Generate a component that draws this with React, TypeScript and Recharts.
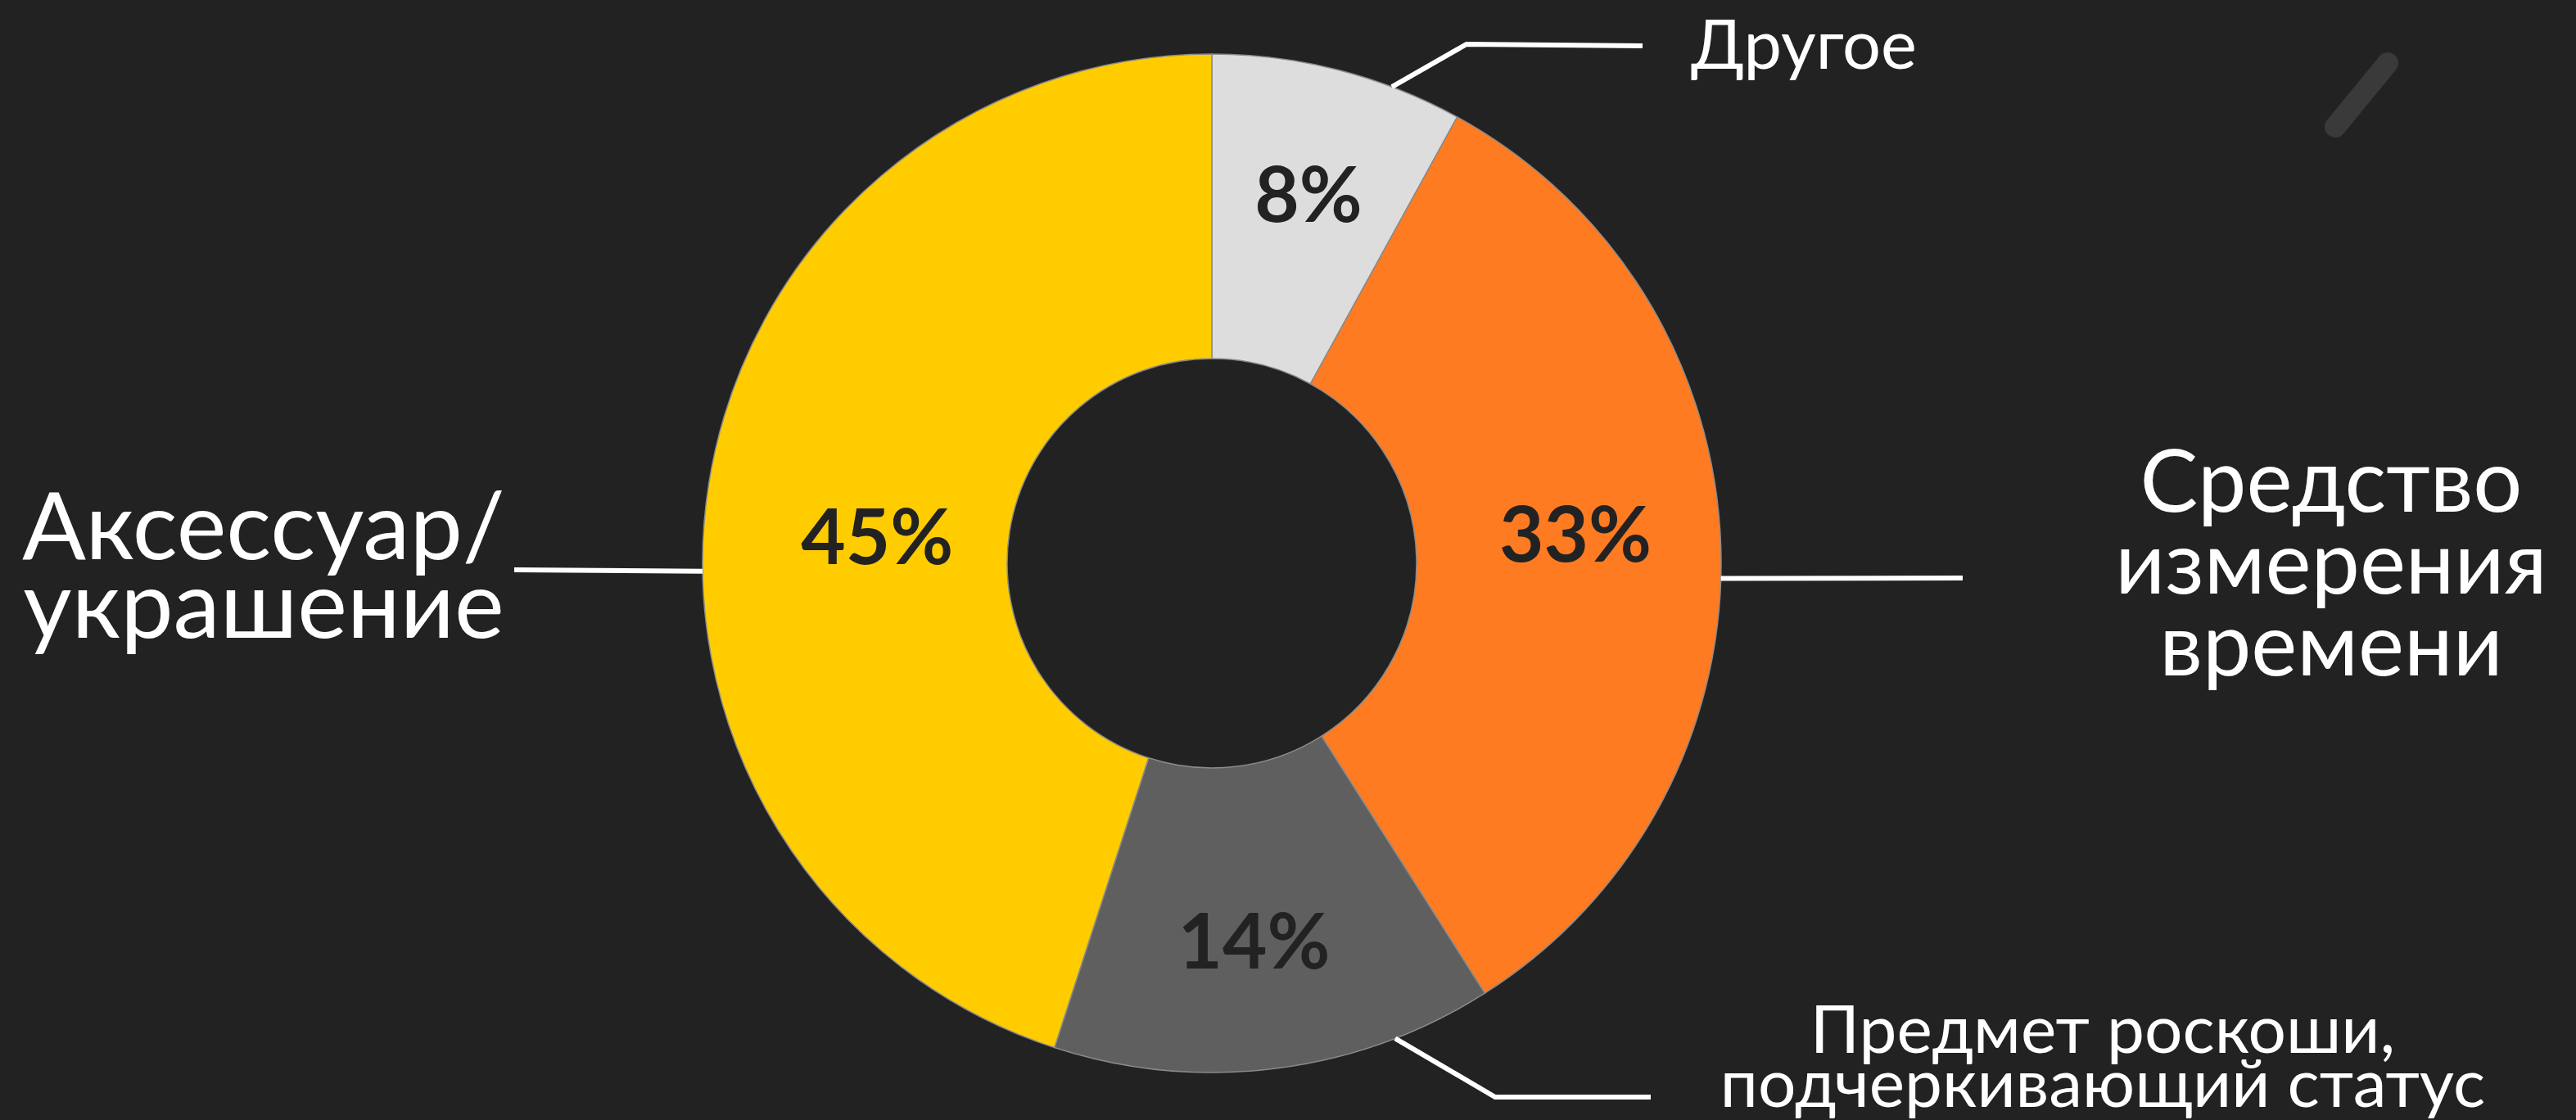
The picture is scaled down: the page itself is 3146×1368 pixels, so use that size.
import React from 'react';
import { PieChart, Pie, Cell } from 'recharts';

// ---- data ----
const categories = [
  'Другое',
  'Средство измерения времени',
  'Предмет роскоши, подчеркивающий статус',
  'Аксессуар/ украшение',
];
const shares = [8, 33, 14, 45];
const sliceColors = ['#DDDDDD', '#FF7B22', '#5F5F5F', '#FFCC00'];
const labelTextLines = [
  ['Другое'],
  ['Средство', 'измерения', 'времени'],
  ['Предмет роскоши,', 'подчеркивающий статус'],
  ['Аксессуар/', 'украшение'],
];

// ---- layout / style (kept apart from the data) ----
const W = 3146;
const H = 1368;
const BG = '#222222';
const CX = 1480;
const CY = 688;
const OUTER = 622;
const INNER = 250;

type Callout = {
  edgeAngle: number; // degrees, where the leader touches the rim
  path: [number, number][]; // further points relative to centre
  textX: number; // relative to centre
  lineYs: number[]; // relative to centre (central baseline)
  size: number;
  pctShift: [number, number]; // nudge of the percentage label
};

const callouts: Callout[] = [
  { edgeAngle: 69.3, path: [[311, -634], [526, -632]], textX: 723, lineYs: [-636], size: 83, pctShift: [4, -10] },
  { edgeAngle: -1.7, path: [[917, 18]], textX: 1367, lineYs: [-104, -4, 96], size: 106, pctShift: [-14, -24] },
  { edgeAngle: -68.9, path: [[346, 652], [536, 652]], textX: 1088, lineYs: [566, 632], size: 82, pctShift: [-6, 4] },
  { edgeAngle: 180.9, path: [[-852, 8]], textX: -1158, lineYs: [-50, 46], size: 115, pctShift: [44, 36] },
];

const data = categories.map((name, i) => ({ name, value: shares[i] }));

const RAD = Math.PI / 180;
const labelFont = "Lato, 'Noto Sans', sans-serif";

const renderLabel = (props: any) => {
  const { cx, cy, midAngle, innerRadius, outerRadius, index, value } = props;
  const c = callouts[index];
  const r = innerRadius + (outerRadius - innerRadius) * 0.56;
  const px = cx + r * Math.cos(-midAngle * RAD) + c.pctShift[0];
  const py = cy + r * Math.sin(-midAngle * RAD) + c.pctShift[1];
  const sx = cx + outerRadius * Math.cos(-c.edgeAngle * RAD);
  const sy = cy + outerRadius * Math.sin(-c.edgeAngle * RAD);
  const pts = [[sx, sy], ...c.path.map(([dx, dy]) => [cx + dx, cy + dy])];
  return (
    <g>
      <text
        x={px}
        y={py}
        textAnchor="middle"
        dominantBaseline="central"
        fill="#222222"
        fontFamily="Lato, 'Noto Sans', sans-serif"
        fontWeight={700}
        fontSize={94}
      >
        {`${value}%`}
      </text>
      <polyline
        points={pts.map((p) => p.join(',')).join(' ')}
        fill="none"
        stroke="#FFFFFF"
        strokeWidth={6}
        strokeLinejoin="miter"
      />
      {labelTextLines[index].map((line, k) => (
        <text
          key={k}
          x={cx + c.textX}
          y={cy + c.lineYs[k]}
          textAnchor="middle"
          dominantBaseline="central"
          fill="#FFFFFF"
          fontFamily={labelFont}
          fontSize={c.size}
        >
          {line}
        </text>
      ))}
    </g>
  );
};

export default function App() {
  return (
    <div style={{ position: 'absolute', left: 0, top: 0, width: W, height: H, background: BG, overflow: 'hidden' }}>
      <svg width={W} height={H} style={{ position: 'absolute', left: 0, top: 0 }}>
        <line x1={2852} y1={155} x2={2916} y2={77} stroke="#3A3A3A" strokeWidth={26} strokeLinecap="round" />
      </svg>
      <div style={{ position: 'absolute', left: 0, top: 0 }}>
        <PieChart width={W} height={H} margin={{ top: 0, right: 0, bottom: 0, left: 0 }}>
          <Pie
            data={data}
            dataKey="value"
            nameKey="name"
            cx={CX}
            cy={CY}
            outerRadius={OUTER}
            innerRadius={INNER}
            startAngle={90}
            endAngle={-270}
            stroke="#8A8A8A"
            strokeWidth={1.5}
            label={renderLabel}
            labelLine={false}
            isAnimationActive={false}
          >
            {data.map((d, i) => (
              <Cell key={d.name} fill={sliceColors[i]} />
            ))}
          </Pie>
        </PieChart>
      </div>
    </div>
  );
}
